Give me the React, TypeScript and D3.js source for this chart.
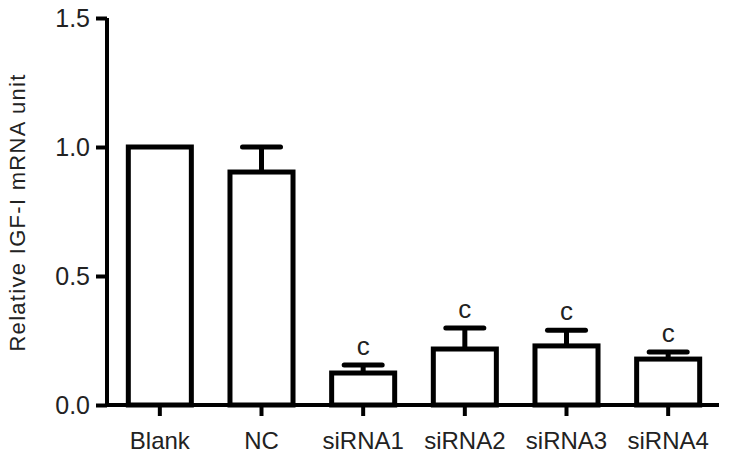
import React, { useEffect, useRef } from 'react';
import * as d3 from 'd3';

const groups = ['Blank', 'NC', 'siRNA1', 'siRNA2', 'siRNA3', 'siRNA4'];
const means = [1.0, 0.903, 0.124, 0.217, 0.229, 0.178];
const errors = [0, 0.097, 0.031, 0.081, 0.061, 0.027];
const marks = ['', '', 'c', 'c', 'c', 'c'];
const yTicks = [0, 0.5, 1.0, 1.5];

const App = () => {
  const svgRef = useRef<SVGSVGElement>(null);

  useEffect(() => {
    const svg = d3.select(svgRef.current);
    svg.selectAll('*').remove();

    const width = 729;
    const height = 458;
    const x0 = 107;
    const x1 = 719;
    const yBottom = 405;
    const yTop = 18;
    const font = 'Arial, "Liberation Sans", sans-serif';

    svg.append('rect').attr('width', width).attr('height', height).attr('fill', '#fff');

    const data = groups.map((g, i) => ({ g, mean: means[i], err: errors[i], mark: marks[i] }));

    const x = d3.scaleBand().domain(groups).range([x0 + 2, x1]).paddingInner(0.38).paddingOuter(0.19);
    const y = d3.scaleLinear().domain([0, 1.5]).range([yBottom, yTop]);

    // bars
    svg.selectAll('.bar')
      .data(data)
      .enter()
      .append('rect')
      .attr('class', 'bar')
      .attr('x', d => x(d.g)!)
      .attr('y', d => y(d.mean))
      .attr('width', x.bandwidth())
      .attr('height', d => y(0) - y(d.mean))
      .attr('fill', '#fff')
      .attr('stroke', '#000')
      .attr('stroke-width', 5);

    // error bars (upper only)
    const withErr = data.filter(d => d.err > 0);
    const capW = 38;
    svg.selectAll('.err-v')
      .data(withErr)
      .enter()
      .append('line')
      .attr('x1', d => x(d.g)! + x.bandwidth() / 2)
      .attr('x2', d => x(d.g)! + x.bandwidth() / 2)
      .attr('y1', d => y(d.mean))
      .attr('y2', d => y(d.mean + d.err))
      .attr('stroke', '#000')
      .attr('stroke-width', 5);
    svg.selectAll('.err-cap')
      .data(withErr)
      .enter()
      .append('line')
      .attr('x1', d => x(d.g)! + x.bandwidth() / 2 - capW / 2)
      .attr('x2', d => x(d.g)! + x.bandwidth() / 2 + capW / 2)
      .attr('y1', d => y(d.mean + d.err))
      .attr('y2', d => y(d.mean + d.err))
      .attr('stroke', '#000')
      .attr('stroke-width', 5)
      .attr('stroke-linecap', 'round');

    // significance letters
    svg.selectAll('.mark')
      .data(data.filter(d => d.mark))
      .enter()
      .append('text')
      .attr('x', d => x(d.g)! + x.bandwidth() / 2)
      .attr('y', d => y(d.mean + d.err) - 10)
      .attr('text-anchor', 'middle')
      .attr('font-family', font)
      .attr('font-size', 26)
      .attr('fill', '#222')
      .text(d => d.mark);

    // Y axis
    const yAxis = svg.append('g')
      .attr('transform', `translate(${x0},0)`)
      .call(d3.axisLeft(y).tickValues(yTicks).tickFormat(d3.format('.1f')).tickSize(11).tickPadding(6));
    yAxis.select('.domain').attr('stroke-width', 4).attr('d', `M0,${yTop}V${yBottom}`);
    yAxis.selectAll('.tick line').attr('stroke-width', 4);
    yAxis.selectAll('text')
      .attr('font-family', font)
      .attr('font-size', 25)
      .attr('fill', '#222');

    // X axis
    const xAxis = svg.append('g')
      .attr('transform', `translate(0,${yBottom})`)
      .call(d3.axisBottom(x).tickSize(11).tickPadding(16));
    xAxis.select('.domain').attr('stroke-width', 4).attr('d', `M${x0 - 2},0H${x1}`);
    xAxis.selectAll('.tick line').attr('stroke-width', 4);
    xAxis.selectAll('text')
      .attr('font-family', font)
      .attr('font-size', 24)
      .attr('fill', '#222');

    // Y label
    svg.append('text')
      .attr('transform', `translate(25,${(70 + 355) / 2}) rotate(-90)`)
      .attr('text-anchor', 'middle')
      .attr('font-family', font)
      .attr('font-size', 22)
      .attr('letter-spacing', 1.3)
      .attr('fill', '#222')
      .text('Relative IGF-I mRNA unit');
  }, []);

  return (
    <svg ref={svgRef} width={729} height={458} style={{ position: 'absolute', left: 0, top: 0 }}></svg>
  );
};

export default App;
